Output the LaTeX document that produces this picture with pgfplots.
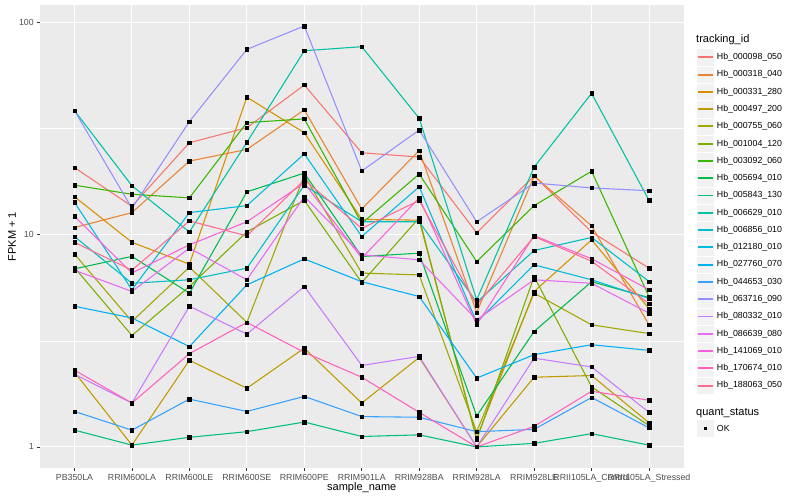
\documentclass[border=0pt]{standalone}
\usepackage{pgfplots}
\pgfplotsset{compat=1.18}
\usepackage{pgfplotstable}
\usepackage{fontspec}
\setmainfont{Liberation Sans}

\definecolor{panelbg}{HTML}{EBEBEB}
\definecolor{keybg}{HTML}{F2F2F2}
\definecolor{grey20}{HTML}{333333}
\definecolor{grey30}{HTML}{4D4D4D}
\definecolor{c1}{HTML}{F8766D}
\definecolor{c2}{HTML}{EA8331}
\definecolor{c3}{HTML}{D89000}
\definecolor{c4}{HTML}{C09B00}
\definecolor{c5}{HTML}{A3A500}
\definecolor{c6}{HTML}{7CAE00}
\definecolor{c7}{HTML}{39B600}
\definecolor{c8}{HTML}{00BB4E}
\definecolor{c9}{HTML}{00BF7D}
\definecolor{c10}{HTML}{00C1A3}
\definecolor{c11}{HTML}{00BFC4}
\definecolor{c12}{HTML}{00BAE0}
\definecolor{c13}{HTML}{00B0F6}
\definecolor{c14}{HTML}{35A2FF}
\definecolor{c15}{HTML}{9590FF}
\definecolor{c16}{HTML}{C77CFF}
\definecolor{c17}{HTML}{E76BF3}
\definecolor{c18}{HTML}{FA62DB}
\definecolor{c19}{HTML}{FF62BC}
\definecolor{c20}{HTML}{FF6C91}

% FPKM + 1, one row per sample, one column per tracking_id
\pgfplotstableread{
x  s1    s2    s3    s4    s5    s6    s7    s8    s9    s10   s11   s12   s13   s14   s15   s16   s17   s18   s19   s20
0  20.7  10.8  15.1  2.25  8.1   7.0   17.1  6.9   1.20  38.4  9.8   14.2  4.6   1.47  38.4  2.2   6.8   12.2  2.3   9.2
1  13.6  12.7  9.2   1.02  3.9   3.35  15.5  7.9   1.02  17.0  5.9   5.5   4.05  1.2   13.3  1.61  5.4   6.6   1.61  6.8
2  27.1  22.2  7.26  2.56  7.03  5.70  14.9  5.3   1.11  10.3  6.13  12.7  2.97  1.68  34.1  4.6   8.64  8.95  2.75  11.6
3  31.9  25.2  44.4  1.89  3.86  10.3  33.7  15.9  1.18  27.2  6.95  13.7  5.80  1.47  74.6  3.40  6.13  11.5  3.86  9.87
4  50.7  38.7  30.2  2.92  19.0  14.5  35.1  19.5  1.31  73.5  17.1  24.0  7.69  1.73  96.1  5.70  15.1  17.5  2.79  18.1
5  24.3  13.2  11.8  1.61  6.59  5.95  11.3  7.89  1.12  76.8  11.5  9.8   6.0   1.39  19.95 2.42  8.04  7.75  2.13  10.7
6  23.2  24.9  11.7  2.64  6.46  12.0  19.3  8.18  1.14  35.3  11.5  16.8  5.11  1.38  31.1  2.67  7.61  14.9  1.455 14.5
7  10.2  4.3   1.10  1.0   1.18  1.08  7.47  1.40  1.0   4.93  4.8   3.87  2.11  1.18  11.5  1.0   3.97  3.76  1.0   4.66
8  18.9  18.9  5.4   2.13  5.3   6.35  13.7  3.5   1.04  20.8  8.42  7.21  2.72  1.21  17.5  2.62  6.13  9.9   1.25  9.8
9  10.3  11.0  9.45  2.17  3.76  1.92  19.9  6.0   1.155 46.3  9.7   6.13  3.03  1.71  16.6  2.38  5.9   7.7   1.83  7.5
10 6.95  3.76  4.48  1.3   3.42  1.26  5.1   5.05  1.02  14.5  6.02  5.0   2.85  1.23  16.1  1.455 4.27  5.5   1.66  4.73
}\data

\begin{document}
\begin{tikzpicture}
\useasboundingbox (-40bp,-32bp) rectangle (760bp,468bp);
\begin{axis}[
  at={(0,0)}, anchor=south west,
  scale only axis, width=643.5bp, height=463bp,
  xmin=-0.6, xmax=10.6,
  ymode=log, ymin=0.796, ymax=120.7,
  axis background/.style={fill=panelbg},
  axis line style={draw=none},
  xtick={0,...,10},
  xticklabels={PB350LA,RRIM600LA,RRIM600LE,RRIM600SE,RRIM600PE,RRIM901LA,RRIM928BA,RRIM928LA,RRIM928LE,RRII105LA\_Control,RRII105LA\_Stressed},
  ytick={1,10,100}, yticklabels={1,10,100},
  minor ytick={3.1623,31.623},
  tick pos=left, tick align=outside,
  major tick length=2.75bp, minor tick length=0pt,
  tick style={color=grey20, line width=0.8bp},
  xmajorgrids, ymajorgrids, yminorgrids,
  major grid style={white, line width=1.07bp},
  minor grid style={white, line width=0.53bp},
  ticklabel style={font=\fontsize{8.8bp}{10bp}\selectfont, text=grey30},
  /pgf/number format/assume math mode=true,
  xlabel={sample\_name}, ylabel={FPKM + 1},
  label style={font=\fontsize{11bp}{13bp}\selectfont},
  xlabel style={at={(axis description cs:0.5,-0.043)}, anchor=center},
  ylabel style={at={(axis description cs:-0.0435,0.5)}, anchor=center},
]
\pgfplotsinvokeforeach{1,...,20}{
  \addplot[color=c#1, line width=1.07bp, mark=none] table[x=x, y=s#1] {\data};
}
\pgfplotsinvokeforeach{1,...,20}{
  \addplot[only marks, mark=square*, mark size=1.7bp, color=black] table[x=x, y=s#1] {\data};
}
\end{axis}

% legend
\node[anchor=west, inner sep=0pt, font=\fontsize{11bp}{13bp}\selectfont] at (656bp,428bp) {tracking\_id};
\foreach \k [count=\i] in {1,...,20}{
  \pgfmathsetmacro{\yc}{410.7-(\i-1)*17.28}
  \pgfmathsetmacro{\ya}{\yc-8.64}
  \pgfmathsetmacro{\yb}{\yc+8.64}
  \filldraw[fill=keybg, draw=white, line width=0.5bp] (656.7bp,\ya bp) rectangle (674bp,\yb bp);
  \draw[color=c\k, line width=1.9bp] (657.6bp,\yc bp) -- (673.1bp,\yc bp);
}
\foreach \lab [count=\i] in {
  Hb\_000098\_050, Hb\_000318\_040, Hb\_000331\_280, Hb\_000497\_200,
  Hb\_000755\_060, Hb\_001004\_120, Hb\_003092\_060, Hb\_005694\_010,
  Hb\_005843\_130, Hb\_006629\_010, Hb\_006856\_010, Hb\_012180\_010,
  Hb\_027760\_070, Hb\_044653\_030, Hb\_063716\_090, Hb\_080332\_010,
  Hb\_086639\_080, Hb\_141069\_010, Hb\_170674\_010, Hb\_188063\_050}{
  \pgfmathsetmacro{\yc}{410.7-(\i-1)*17.28}
  \node[anchor=west, inner sep=0pt, font=\fontsize{8.8bp}{10bp}\selectfont] at (676.7bp,\yc bp) {\lab};
}
\node[anchor=west, inner sep=0pt, font=\fontsize{11bp}{13bp}\selectfont] at (656bp,55.3bp) {quant\_status};
\filldraw[fill=keybg, draw=white, line width=0.5bp] (656.7bp,31.06bp) rectangle (674bp,48.34bp);
\fill[black] (663.6bp,38bp) rectangle (667bp,41.4bp);
\node[anchor=west, inner sep=0pt, font=\fontsize{8.8bp}{10bp}\selectfont] at (676.7bp,39.7bp) {OK};
\end{tikzpicture}
\end{document}
